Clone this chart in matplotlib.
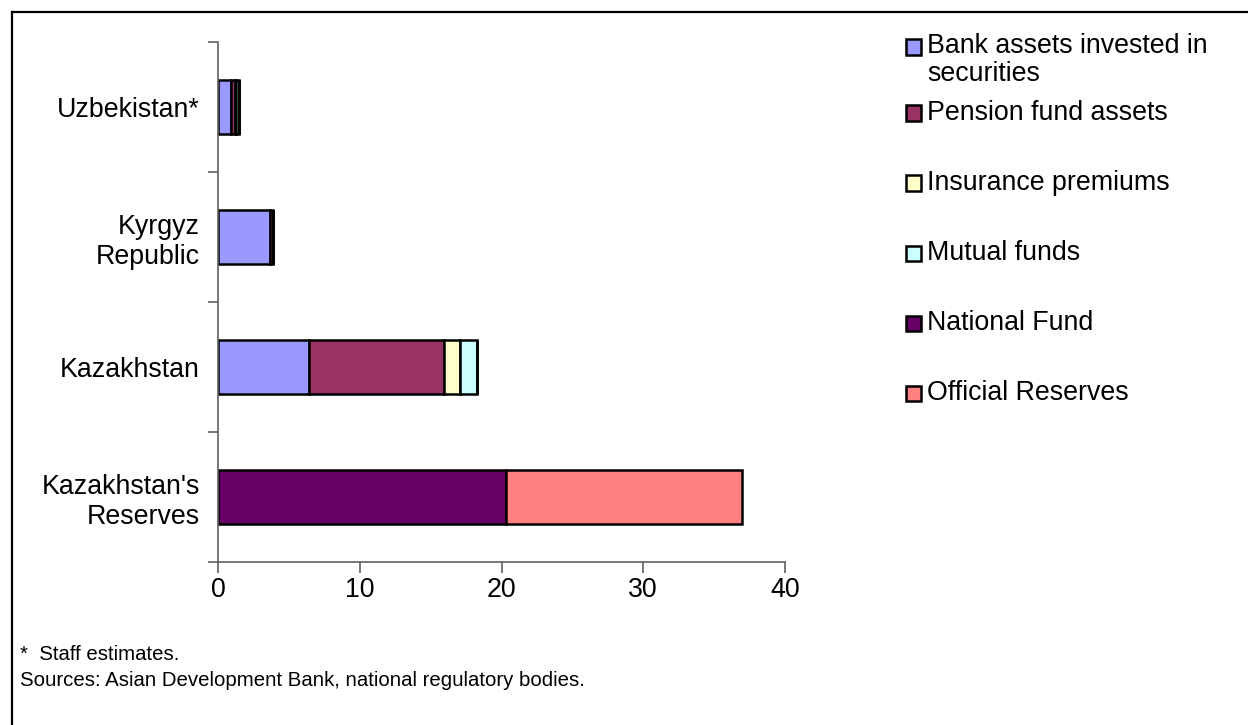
import numpy as np
import matplotlib
matplotlib.use("Agg")
import matplotlib.pyplot as plt
from matplotlib.patches import Rectangle
from matplotlib.lines import Line2D

plt.rcParams['font.family'] = ['Liberation Sans', 'DejaVu Sans']

# categories from bottom to top
categories = ["Kazakhstan's\nReserves", "Kazakhstan", "Kyrgyz\nRepublic", "Uzbekistan*"]

series_names = ["Bank assets invested in\nsecurities", "Pension fund assets",
                "Insurance premiums", "Mutual funds", "National Fund", "Official Reserves"]
series_colors = ["#9999FF", "#993366", "#FFFFCC", "#CCFFFF", "#660066", "#FF8080"]

bank = [0, 6.45, 3.65, 0.95]
pension = [0, 9.5, 0.2, 0.25]
insurance = [0, 1.15, 0, 0.1]
mutual = [0, 1.2, 0, 0.15]
national_fund = [20.3, 0, 0, 0]
official_reserves = [16.7, 0, 0, 0]
series_values = [bank, pension, insurance, mutual, national_fund, official_reserves]

xticks = [0, 10, 20, 30, 40]

W, H = 1248, 725
FS = 19.3
fig = plt.figure(figsize=(W / 100, H / 100), dpi=100)
ax = fig.add_axes([218 / W, 1 - 562 / H, (785 - 218) / W, (562 - 42) / H])

y = np.arange(len(categories))
left = np.zeros(len(categories))
for vals, col in zip(series_values, series_colors):
    vals = np.array(vals, dtype=float)
    ax.barh(y, vals, left=left, height=0.42, color=col, edgecolor='black', linewidth=1.8)
    left += vals

ax.set_xlim(0, 40)
ax.set_ylim(-0.5, len(categories) - 0.5)
ax.set_xticks(xticks)
ax.set_xticklabels([str(t) for t in xticks], fontsize=FS)
ax.set_yticks(y)
ax.set_yticklabels(categories, fontsize=FS, linespacing=1.2)
ax.set_yticks(np.arange(-0.5, len(categories)), minor=True)
ax.tick_params(axis='y', which='major', length=0, pad=13)
ax.tick_params(axis='y', which='minor', length=7, width=1.2, color='#606060')
ax.tick_params(axis='x', which='major', length=8, width=1.2, color='#606060', pad=3)
for s in ['top', 'right']:
    ax.spines[s].set_visible(False)
for s in ['left', 'bottom']:
    ax.spines[s].set_color('#606060')
    ax.spines[s].set_linewidth(1.2)

# legend, drawn by hand (square centre, text centre)
leg_sq_y = [47, 113, 183, 253, 323, 393]
leg_txt_y = [60, 113, 183, 253, 323, 393]
for name, col, sy, ty in zip(series_names, series_colors, leg_sq_y, leg_txt_y):
    sq = 15
    fig.patches.append(Rectangle((906 / W, 1 - (sy + sq / 2) / H), sq / W, sq / H,
                                 facecolor=col, edgecolor='black', linewidth=1.8,
                                 transform=fig.transFigure))
    fig.text(927 / W, 1 - ty / H, name, fontsize=FS, va='center', ha='left',
             linespacing=1.1)

# footnotes
fig.text(20 / W, 1 - 655 / H, "*  Staff estimates.", fontsize=14.7, va='center')
fig.text(20 / W, 1 - 681 / H, "Sources: Asian Development Bank, national regulatory bodies.",
         fontsize=14.7, va='center')

# outer frame
fig.lines.append(Line2D([12 / W, 1], [1 - 12 / H, 1 - 12 / H], color='black', linewidth=1.6,
                        transform=fig.transFigure))
fig.lines.append(Line2D([12 / W, 12 / W], [0, 1 - 12 / H], color='black', linewidth=1.6,
                        transform=fig.transFigure))

fig.savefig("out.png", dpi=100)
